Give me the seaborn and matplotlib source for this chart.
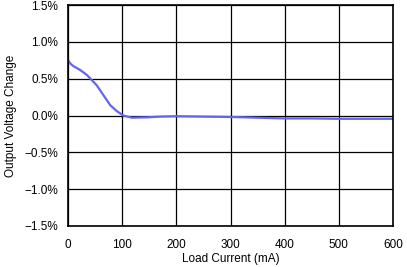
import matplotlib
matplotlib.use("Agg")
import matplotlib.pyplot as plt
import seaborn as sns
import pandas as pd
from matplotlib.ticker import FuncFormatter

load_current_ma = [0, 2, 5, 10, 22, 35, 44, 53, 65, 78, 90, 102, 118, 146, 170, 200, 250, 300, 350, 400, 450, 500, 550, 600]
voltage_change_pct = [0.76, 0.73, 0.70, 0.67, 0.62, 0.55, 0.48, 0.41, 0.28, 0.14, 0.06, 0.0, -0.03, -0.025, -0.015, -0.01, -0.015, -0.02, -0.03, -0.04, -0.04, -0.045, -0.045, -0.045]

x_ticks = [0, 100, 200, 300, 400, 500, 600]
y_ticks = [-1.5, -1.0, -0.5, 0.0, 0.5, 1.0, 1.5]

sns.set_theme(style="white")
plt.rcParams['font.family'] = ['Liberation Sans', 'DejaVu Sans']
plt.rcParams['axes.unicode_minus'] = True

df = pd.DataFrame({"x": load_current_ma, "y": voltage_change_pct})

fig = plt.figure(figsize=(4.07, 2.67), dpi=100)
ax = fig.add_axes([68/407, 1-226/267, (393-68)/407, (226-5)/267])
sns.lineplot(data=df, x="x", y="y", ax=ax, color="#6464F0", linewidth=1.6)

ax.set_xlim(0, 600)
ax.set_ylim(-1.5, 1.5)
ax.set_xticks(x_ticks)
ax.set_yticks(y_ticks)
ax.yaxis.set_major_formatter(FuncFormatter(lambda v, p: f"{v:.1f}%".replace("-", "\u2212")))
ax.grid(True, color="black", linewidth=0.9)
ax.set_axisbelow(True)
for s in ax.spines.values():
    s.set_color("black")
    s.set_linewidth(1.2)
ax.tick_params(axis="both", length=0, labelsize=8.5, colors="black")
ax.tick_params(axis="x", pad=9)
ax.tick_params(axis="y", pad=7)
ax.set_xlabel("Load Current (mA)", fontsize=8.5, color="black", labelpad=2)
ax.set_ylabel("Output Voltage Change", fontsize=8.5, color="black", labelpad=5.5)

fig.savefig("out.png", dpi=100)
